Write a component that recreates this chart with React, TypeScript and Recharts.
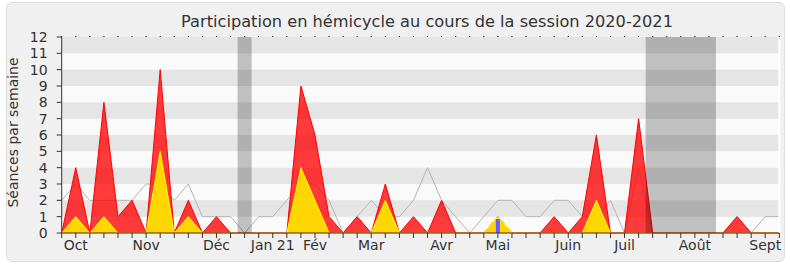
import React from 'react';
import {
  ComposedChart,
  Area,
  Bar,
  XAxis,
  YAxis,
  ReferenceArea,
  ReferenceLine,
} from 'recharts';

// Weekly values (week index 0 = first week of Oct 2020)
const seances = [
  0, 4, 0, 8, 1, 2, 0, 10, 0, 2,
  0, 1, 0, 0, 0, 0, 0, 9, 6, 1,
  0, 1, 0, 3, 0, 1, 0, 2, 0, 0,
  0, 1, 0, 0, 0, 1, 0, 1, 6, 0,
  0, 7, 0, 0, 0, 0, 0, 0, 1, 0,
  0, 0,
];
const presences = [
  0, 1, 0, 1, 0, 0, 0, 5, 0, 1,
  0, 0, 0, 0, 0, 0, 0, 4, 2, 0,
  0, 0, 0, 2, 0, 0, 0, 0, 0, 0,
  0, 1, 0, 0, 0, 0, 0, 0, 2, 0,
  0, 0, 0, 0, 0, 0, 0, 0, 0, 0,
  0, 0,
];
const mediane = [
  2, 3, 2, 2, 2, 2, 3, 3, 2, 3,
  1, 1, 1, 0, 1, 1, 2, 3, 3, 2,
  0, 1, 2, 1, 1, 2, 4, 2, 1, 0,
  1, 2, 2, 1, 1, 2, 2, 1, 1, 2,
  0, 4, 0, 0, 0, 0, 0, 0, 1, 0,
  1, 1,
];
const questions = [
  0, 0, 0, 0, 0, 0, 0, 0, 0, 0,
  0, 0, 0, 0, 0, 0, 0, 0, 0, 0,
  0, 0, 0, 0, 0, 0, 0, 0, 0, 0,
  0, 0.85, 0, 0, 0, 0, 0, 0, 0, 0,
  0, 0, 0, 0, 0, 0, 0, 0, 0, 0,
  0, 0,
];

const monthTicks = [1, 6, 11, 15, 18, 22, 27, 31, 36, 40, 45, 50];
const monthLabels = ['Oct', 'Nov', 'Déc', 'Jan 21', 'Fév', 'Mar', 'Avr', 'Mai', 'Juin', 'Juil', 'Août', 'Sept'];
const yTicks = [0, 1, 2, 3, 4, 5, 6, 7, 8, 9, 10, 11, 12];
const darkStripes = [1, 3, 5, 7, 9, 11];
const vacations = [
  [12.5, 13.5],
  [41.5, 46.5],
];

const weekIdx = seances.map((_, i) => i);
const data = weekIdx.map((i) => ({
  w: i,
  seances: seances[i],
  presences: presences[i],
  mediane: mediane[i],
  questions: questions[i] > 0 ? questions[i] : null,
}));

const labelMap: Record<number, string> = {};
monthTicks.forEach((t, k) => {
  labelMap[t] = monthLabels[k];
});

const FONT = "'DejaVu Sans', Verdana, sans-serif";

export default function App() {
  return (
    <div
      style={{
        position: 'absolute',
        left: 0,
        top: 0,
        width: 790,
        height: 267,
        background: '#ffffff',
        fontFamily: FONT,
      }}
    >
      <div
        style={{
          position: 'absolute',
          left: 6,
          top: 2,
          width: 777,
          height: 258,
          background: '#f0f0f0',
          border: '1px solid #dddddd',
          borderRadius: 6,
        }}
      />
      <div style={{ position: 'absolute', left: 0, top: 0 }}>
        <ComposedChart
          width={790}
          height={267}
          data={data}
          margin={{ top: 36, right: 10.7, bottom: 0, left: 0 }}
        >
          <ReferenceArea y1={0} y2={12} fill="#fafafa" fillOpacity={1} stroke="none" zIndex={-100} />
          {darkStripes.map((s) => (
            <ReferenceArea
              key={'s' + s}
              y1={s}
              y2={s + 1}
              fill="#e5e5e5"
              fillOpacity={1}
              stroke="none"
              zIndex={-99}
            />
          ))}
          <Area
            type="linear"
            dataKey="mediane"
            stroke="#b4b4b4"
            strokeWidth={1}
            fill="none"
            fillOpacity={0}
            dot={false}
            activeDot={false}
            isAnimationActive={false}
          />
          <Area
            type="linear"
            dataKey="seances"
            stroke="#ff0000"
            strokeWidth={1}
            fill="#ff0000"
            fillOpacity={0.77}
            dot={false}
            activeDot={false}
            isAnimationActive={false}
          />
          <Area
            type="linear"
            dataKey="presences"
            stroke="#ffff00"
            strokeWidth={1}
            fill="#ffd700"
            fillOpacity={1}
            dot={false}
            activeDot={false}
            isAnimationActive={false}
          />
          <Bar dataKey="questions" fill="#6060ff" barSize={4} isAnimationActive={false} />
          {vacations.map((v, k) => (
            <ReferenceArea
              key={'v' + k}
              x1={v[0]}
              x2={v[1]}
              y1={0}
              y2={12}
              fill="#000000"
              fillOpacity={0.23}
              stroke="none"
              zIndex={450}
            />
          ))}
          <ReferenceLine x={51} stroke="#ffffff" strokeWidth={2} />
          <XAxis
            dataKey="w"
            type="number"
            domain={[0, 51]}
            ticks={weekIdx}
            interval={0}
            allowDataOverflow
            tickFormatter={(v: number) => labelMap[v] ?? ''}
            tickSize={5}
            tickMargin={2}
            height={34}
            axisLine={{ stroke: '#5c1e1e' }}
            tickLine={{ stroke: '#333333' }}
            tick={{ fill: '#333333', fontSize: 14, fontFamily: FONT }}
          />
          <XAxis
            xAxisId="top"
            orientation="top"
            dataKey="w"
            type="number"
            domain={[0, 51]}
            ticks={weekIdx}
            interval={0}
            tickFormatter={() => ''}
            tickSize={1}
            height={1}
            axisLine={false}
            tickLine={{ stroke: '#000000' }}
          />
          <YAxis
            type="number"
            domain={[0, 12]}
            ticks={yTicks}
            interval={0}
            width={61.7}
            tickSize={5}
            tickMargin={9}
            axisLine={{ stroke: '#333333' }}
            tickLine={{ stroke: '#333333' }}
            tick={{ fill: '#333333', fontSize: 14, fontFamily: FONT }}
          />
        </ComposedChart>
      </div>
      <svg
        width={790}
        height={267}
        style={{ position: 'absolute', left: 0, top: 0, pointerEvents: 'none' }}
      >
        <text x={427} y={26.5} textAnchor="middle" fontSize={16.2} fill="#333333" fontFamily={FONT}>
          Participation en hémicycle au cours de la session 2020-2021
        </text>
        <text
          transform="translate(17.5,132.5) rotate(-90)"
          x={0}
          y={0}
          textAnchor="middle"
          fontSize={14}
          fill="#333333"
          fontFamily={FONT}
        >
          Séances par semaine
        </text>
      </svg>
    </div>
  );
}
